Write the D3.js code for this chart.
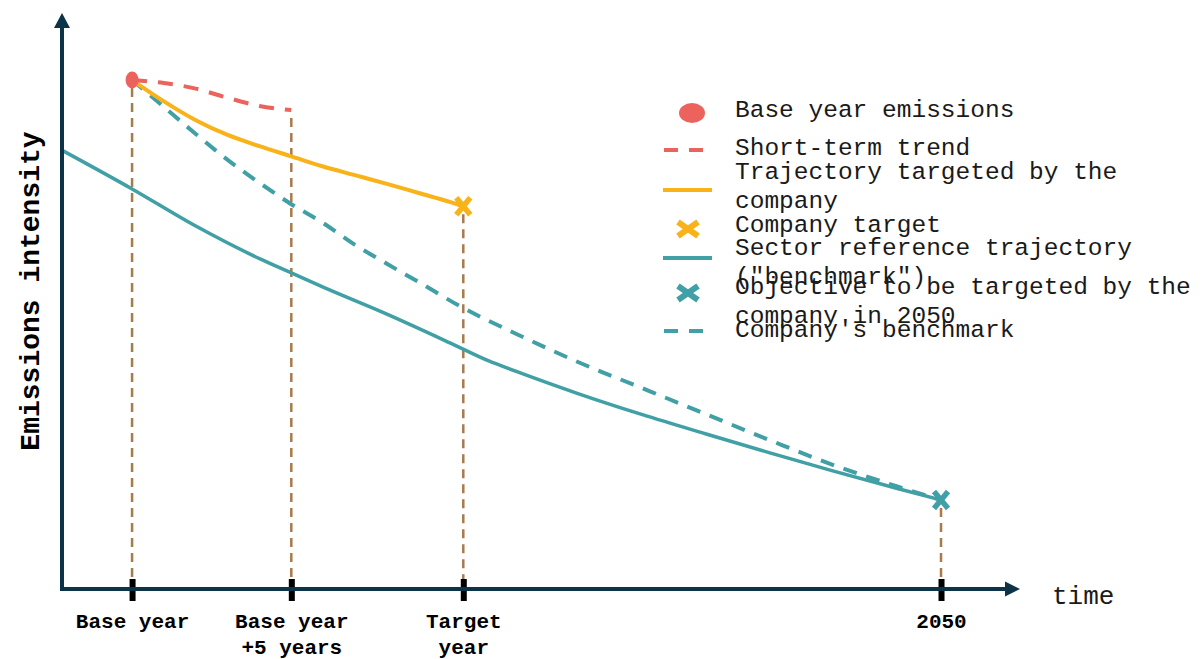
<!DOCTYPE html>
<html>
<head>
<meta charset="utf-8">
<script src="https://cdn.jsdelivr.net/npm/d3@7"></script>
<style>
  html, body { margin: 0; padding: 0; background: #ffffff; }
  svg { display: block; }
</style>
</head>
<body>
<svg id="chart" width="1204" height="659"></svg>
<script>
// ---- data: time in years after the base year, intensity as an index (base year = 100) ----
const milestoneYears = [0, 5, 10.4, 25.4];
const milestoneLabels = [["Base year"], ["Base year", "+5 years"], ["Target", "year"], ["2050"]];

const baseYears = [0];
const baseValues = [100];

const shortTermYears = [0, 1, 2, 3, 4, 5];
const shortTermValues = [100, 99.4, 98.3, 96.5, 94.9, 94.1];

const companyYears = [0, 1, 2, 3, 4, 5, 6, 7, 8, 9, 10, 10.4];
const companyValues = [100, 95.8, 92.1, 89.2, 87.0, 85.0, 83.0, 81.3, 79.6, 77.8, 76.0, 75.2];

const targetYears = [10.4];
const targetValues = [75.2];

const sectorYears = [-2.2, 0, 2, 4, 5, 6, 8, 10, 11.2, 12, 14, 16, 18, 20, 22, 24, 25.4];
const sectorValues = [86.2, 78.6, 71.3, 64.9, 62.1, 59.3, 54.0, 48.3, 44.8, 42.9, 38.4, 34.3, 30.5, 26.8, 23.2, 19.8, 17.5];

const benchmarkYears = [0, 1, 2, 3, 4, 5, 6, 7, 8, 9, 10.4, 12, 14, 16, 18, 20, 22, 24, 25.4];
const benchmarkValues = [100, 94.7, 89.4, 84.3, 79.8, 75.6, 71.9, 67.6, 63.9, 60.3, 55.2, 50.3, 44.6, 39.5, 34.4, 29.3, 24.4, 20.2, 17.5];

const objectiveYears = [25.4];
const objectiveValues = [17.5];

// where each milestone's guide line starts (value of the mark above it)
const guideValues = [100, 94.1, 75.2, 17.5];

const legendLines = [
  ["Base year emissions"],
  ["Short-term trend"],
  ["Trajectory targeted by the", "company"],
  ["Company target"],
  ["Sector reference trajectory", "(\"benchmark\")"],
  ["Objective to be targeted by the", "company in 2050"],
  ["Company's benchmark"]
];
const legendSymbols = ["ellipse", "dash", "line", "cross", "line", "cross", "dash"];

// ---- styles ----
const RED = "#ec625c", YELLOW = "#f9b217", TEAL = "#40a0a6", BROWN = "#a87a4c", NAVY = "#0d3349";
const legendColors = [RED, RED, YELLOW, YELLOW, TEAL, TEAL, TEAL];
const MONO = "'Courier New', 'Liberation Mono', monospace";

const svg = d3.select("#chart");

const x = d3.scaleLinear().domain([-2.2, 27.88]).range([62, 1020]);
const y = d3.scaleLinear().domain([0, 100]).range([589, 80]);

const zip = (xs, ys) => xs.map((d, i) => [d, ys[i]]);
const line = d3.line().x(d => x(d[0])).y(d => y(d[1])).curve(d3.curveMonotoneX);

// ---- vertical guides from each milestone mark to the axis ----
svg.append("g").selectAll("line")
  .data(milestoneYears)
  .join("line")
  .attr("x1", d => x(d)).attr("x2", d => x(d))
  .attr("y1", (d, i) => y(guideValues[i]) + 8)
  .attr("y2", y(0) - 10)
  .attr("stroke", BROWN).attr("stroke-width", 2.5)
  .attr("stroke-dasharray", "9,6");

// ---- trajectories ----
svg.append("path")
  .attr("d", line(zip(sectorYears, sectorValues)))
  .attr("fill", "none").attr("stroke", TEAL).attr("stroke-width", 3.5);

svg.append("path")
  .attr("d", line(zip(benchmarkYears, benchmarkValues)))
  .attr("fill", "none").attr("stroke", TEAL).attr("stroke-width", 4)
  .attr("stroke-dasharray", "14,10");

svg.append("path")
  .attr("d", line(zip(companyYears, companyValues)))
  .attr("fill", "none").attr("stroke", YELLOW).attr("stroke-width", 4);

svg.append("path")
  .attr("d", line(zip(shortTermYears, shortTermValues)))
  .attr("fill", "none").attr("stroke", RED).attr("stroke-width", 4)
  .attr("stroke-dasharray", "15,11");

// ---- point marks ----
function crossPath(a, b) {
  return `M${-a},${-b}L${a},${b}M${-a},${b}L${a},${-b}`;
}

svg.append("g").selectAll("ellipse")
  .data(zip(baseYears, baseValues))
  .join("ellipse")
  .attr("cx", d => x(d[0])).attr("cy", d => y(d[1]))
  .attr("rx", 6.5).attr("ry", 8.5)
  .attr("fill", RED);

svg.append("g").selectAll("path")
  .data(zip(targetYears, targetValues))
  .join("path")
  .attr("transform", d => `translate(${x(d[0])},${y(d[1])})`)
  .attr("d", crossPath(7, 8.5))
  .attr("stroke", YELLOW).attr("stroke-width", 5.5).attr("fill", "none");

svg.append("g").selectAll("path")
  .data(zip(objectiveYears, objectiveValues))
  .join("path")
  .attr("transform", d => `translate(${x(d[0])},${y(d[1])})`)
  .attr("d", crossPath(7, 8.5))
  .attr("stroke", TEAL).attr("stroke-width", 5.5).attr("fill", "none");

// ---- axes ----
const xAxis = d3.axisBottom(x).tickValues(milestoneYears).tickSize(0).tickFormat("");
const gx = svg.append("g").attr("transform", `translate(0,${y(0)})`).call(xAxis);
gx.select(".domain").remove();

svg.append("line")
  .attr("x1", x(-2.2) - 2).attr("x2", 1006)
  .attr("y1", y(0)).attr("y2", y(0))
  .attr("stroke", NAVY).attr("stroke-width", 4);
svg.append("path")
  .attr("d", `M1005,${y(0) - 7.5}L1020,${y(0)}L1005,${y(0) + 7.5}Z`)
  .attr("fill", NAVY);

svg.append("line")
  .attr("x1", x(-2.2)).attr("x2", x(-2.2))
  .attr("y1", y(0) + 2).attr("y2", 27)
  .attr("stroke", NAVY).attr("stroke-width", 4);
svg.append("path")
  .attr("d", `M${x(-2.2) - 8},28L${x(-2.2)},13L${x(-2.2) + 8},28Z`)
  .attr("fill", NAVY);

gx.selectAll(".tick").each(function (d, i) {
  const t = d3.select(this);
  t.append("rect")
    .attr("x", -3).attr("y", -10).attr("width", 6).attr("height", 22)
    .attr("fill", "#000");
  const txt = t.append("text")
    .attr("text-anchor", "middle")
    .attr("font-family", MONO).attr("font-weight", "bold").attr("font-size", 21)
    .attr("fill", "#000");
  milestoneLabels[i].forEach((s, k) => {
    txt.append("tspan").attr("x", 0).attr("y", 39 + k * 26).text(s);
  });
});

svg.append("text")
  .attr("x", 1052).attr("y", 604)
  .attr("font-family", MONO).attr("font-size", 26).attr("fill", "#1a1a1a")
  .text("time");

svg.append("text")
  .attr("transform", `translate(39,${291}) rotate(-90)`)
  .attr("text-anchor", "middle")
  .attr("font-family", MONO).attr("font-weight", "bold").attr("font-size", 28)
  .attr("fill", "#000")
  .text("Emissions intensity");

// ---- legend ----
const legendMarkY = [113, 150, 190, 229, 258, 293, 331];
const legendTextY = [117, 155, 179, 232, 255, 294, 337];
const legend = svg.append("g");

legendSymbols.forEach((s, i) => {
  const cy = legendMarkY[i], c = legendColors[i];
  if (s === "ellipse") {
    legend.append("ellipse").attr("cx", 692).attr("cy", cy).attr("rx", 13).attr("ry", 10).attr("fill", c);
  } else if (s === "dash") {
    legend.append("line").attr("x1", 664).attr("x2", 710).attr("y1", cy).attr("y2", cy)
      .attr("stroke", c).attr("stroke-width", 4).attr("stroke-dasharray", "14,11");
  } else if (s === "line") {
    legend.append("line").attr("x1", 663).attr("x2", 712).attr("y1", cy).attr("y2", cy)
      .attr("stroke", c).attr("stroke-width", 4);
  } else {
    legend.append("path").attr("transform", `translate(688,${cy})`)
      .attr("d", crossPath(10, 7)).attr("stroke", c).attr("stroke-width", 6).attr("fill", "none");
  }
  const txt = legend.append("text")
    .attr("font-family", MONO).attr("font-size", 24.5).attr("fill", "#1a1a1a");
  legendLines[i].forEach((s2, k) => {
    txt.append("tspan").attr("x", 735).attr("y", legendTextY[i] + k * 29).text(s2);
  });
});
</script>
</body>
</html>
